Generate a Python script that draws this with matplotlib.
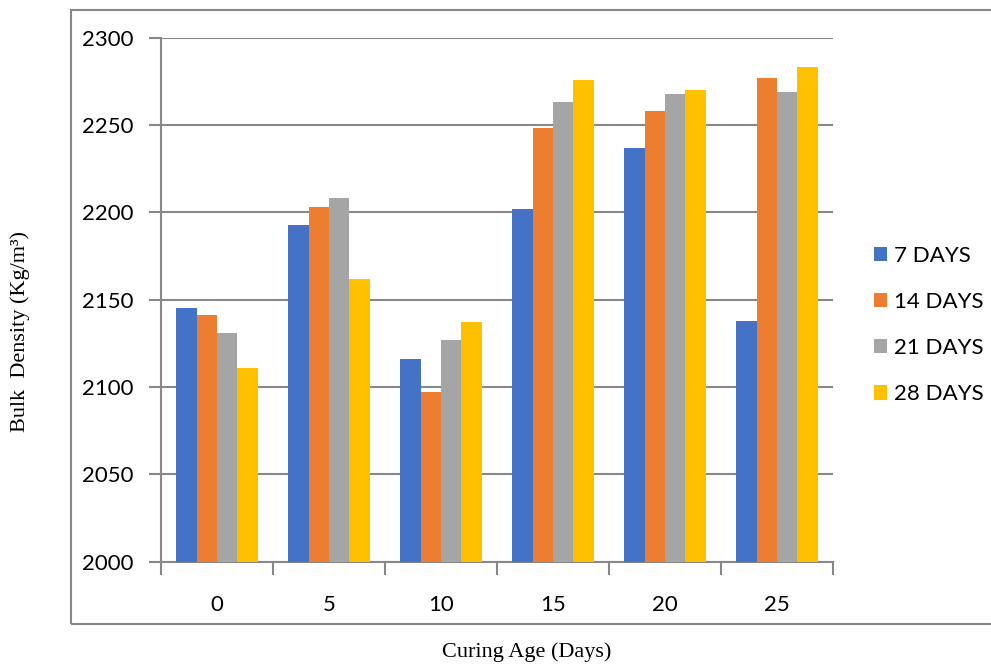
import matplotlib
matplotlib.use("Agg")
import matplotlib.pyplot as plt
import numpy as np
from matplotlib.patches import Rectangle

# Bulk density (kg/m3) by curing age, one series per test age
curing_age = ["0", "5", "10", "15", "20", "25"]
series_names = ["7 DAYS", "14 DAYS", "21 DAYS", "28 DAYS"]
density_7 = [2145, 2193, 2116, 2202, 2237, 2138]
density_14 = [2141, 2203, 2097, 2248, 2258, 2277]
density_21 = [2131, 2208, 2127, 2263, 2268, 2269]
density_28 = [2111, 2162, 2137, 2276, 2270, 2283]

colors = ["#4472C4", "#ED7D31", "#A5A5A5", "#FFC000"]
GRID = "#888888"

plt.rcParams["font.family"] = ["Lato", "DejaVu Sans"]

W, H = 991, 664
fig = plt.figure(figsize=(W / 100, H / 100), dpi=100)
ax = fig.add_axes([161 / W, 1 - 561.5 / H, (833 - 161) / W, (561.5 - 37.7) / H])

# outer chart frame
fig.patches.append(
    Rectangle((71 / W, 1 - 624 / H), (W - 71 + 5) / W, (624 - 10) / H,
              transform=fig.transFigure, fill=False, edgecolor=GRID,
              linewidth=1.5, clip_on=False)
)

x = np.arange(len(curing_age))
width = 0.183
all_series = [density_7, density_14, density_21, density_28]
for i, (vals, name, col) in enumerate(zip(all_series, series_names, colors)):
    ax.bar(x + (i - 1.5) * width, vals, width, color=col, label=name, zorder=3)

ax.set_xlim(-0.5, len(curing_age) - 0.5)
ax.set_ylim(2000, 2300)
ax.set_yticks(np.arange(2000, 2301, 50))
ax.yaxis.grid(True, color=GRID, linewidth=1.5, zorder=0)
ax.set_axisbelow(True)

# category boundaries carry the tick marks, labels sit at the centres
ax.set_xticks(np.arange(-0.5, len(curing_age), 1.0))
ax.set_xticklabels([])
ax.set_xticks(x, minor=True)
ax.set_xticklabels(curing_age, minor=True)
ax.tick_params(axis="x", which="major", length=9, width=1.5, color=GRID)
ax.tick_params(axis="x", which="minor", length=0, pad=24, labelsize=16)
ax.tick_params(axis="y", length=9, width=1.5, color=GRID, pad=11, labelsize=16)

for side in ["top", "right"]:
    ax.spines[side].set_visible(False)
for side in ["left", "bottom"]:
    ax.spines[side].set_color(GRID)
    ax.spines[side].set_linewidth(1.5)

fig.text(20 / W, 1 - 331 / H, "Bulk  Density (Kg/m\u00b3)", rotation=90,
         ha="center", va="center", fontsize=16, family="Liberation Serif")
fig.text(527 / W, 1 - 652 / H, "Curing Age (Days)", ha="center", va="center",
         fontsize=16, family="Liberation Serif")

ax.legend(loc="center left", bbox_to_anchor=(865 / W, 1 - 325 / H),
          bbox_transform=fig.transFigure, frameon=False, fontsize=16,
          handlelength=0.6, handleheight=0.6, handletextpad=0.3,
          labelspacing=1.18, borderaxespad=0)

fig.savefig("out.png", dpi=100)
